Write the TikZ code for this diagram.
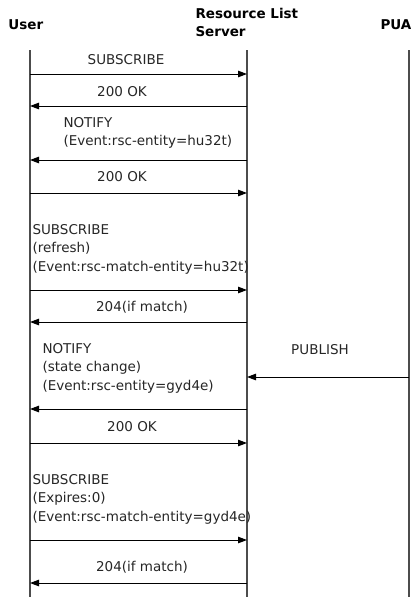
\documentclass[tikz,border=0pt]{standalone}
\usepackage{fontspec}
\setmainfont{DejaVu Sans}
\usetikzlibrary{arrows.meta}
\tikzset{
    actor/.style={
           inner sep=0pt,
           anchor=west,
           font=\bfseries\fontsize{13.5pt}{18pt}\selectfont
           },
    msg/.style={
           inner sep=0pt,
           text=black!85,
           font=\fontsize{13.5pt}{18.5pt}\selectfont
           },
    lifeline/.style={-, draw=black!70, line width=1.1pt},
}

\begin{document}
\begin{tikzpicture}[->,>={Triangle[length=9pt,width=6.5pt]},line width=1pt,x=1pt,y=-1pt]
    \useasboundingbox (0,0) rectangle (411,597);

%   participants
    \node[actor] (USER) at (8,25) {User};
    \node[actor] (RLS) at (195,24)
        {\begin{tabular}{@{}l@{}}
            Resource List\\
            Server
         \end{tabular}};
    \node[actor] (PUA) at (380,25) {PUA};

%   lifelines
    \coordinate (Utop) at (30,50);  \coordinate (Ubot) at (30,597);
    \coordinate (Stop) at (247,50); \coordinate (Sbot) at (247,597);
    \coordinate (Ptop) at (409,50); \coordinate (Pbot) at (409,597);
    \draw[lifeline] (Utop) -- (Ubot);
    \draw[lifeline] (Stop) -- (Sbot);
    \draw[lifeline] (Ptop) -- (Pbot);

%   one height per message
    \foreach \n/\y in {1/74,2/106,3/160,4/193,5/290,6/322,7/377,8/409,9/443,10/540,11/583}{
        \coordinate (u\n) at (30,\y);
        \coordinate (s\n) at (247,\y);
        \coordinate (p\n) at (409,\y);
    }

    \path
        (u1)  edge (s1)
        (s2)  edge (u2)
        (s3)  edge (u3)
        (u4)  edge (s4)
        (u5)  edge (s5)
        (s6)  edge (u6)
        (p7)  edge (s7)
        (s8)  edge (u8)
        (u9)  edge (s9)
        (u10) edge (s10)
        (s11) edge (u11)
        ;

%   message texts
    \node[msg] (m1) at (126,60) {SUBSCRIBE};
    \node[msg] (m2) at (122,92) {200 OK};
    \node[msg, anchor=west] (m3) at (63,133)
        {\begin{tabular}{@{}l@{}}
            NOTIFY\\
            (Event:rsc-entity=hu32t)
         \end{tabular}};
    \node[msg] (m4) at (122,177) {200 OK};
    \node[msg, anchor=west] (m5) at (32,249)
        {\begin{tabular}{@{}l@{}}
            SUBSCRIBE\\
            (refresh)\\
            (Event:rsc-match-entity=hu32t)
         \end{tabular}};
    \node[msg] (m6) at (142,307) {204(if match)};
    \node[msg] (m7) at (320,350) {PUBLISH};
    \node[msg, anchor=west] (m8) at (42,368)
        {\begin{tabular}{@{}l@{}}
            NOTIFY\\
            (state change)\\
            (Event:rsc-entity=gyd4e)
         \end{tabular}};
    \node[msg] (m9) at (132,427) {200 OK};
    \node[msg, anchor=west] (m10) at (32,499)
        {\begin{tabular}{@{}l@{}}
            SUBSCRIBE\\
            (Expires:0)\\
            (Event:rsc-match-entity=gyd4e)
         \end{tabular}};
    \node[msg] (m11) at (142,567) {204(if match)};

\end{tikzpicture}
\end{document}
